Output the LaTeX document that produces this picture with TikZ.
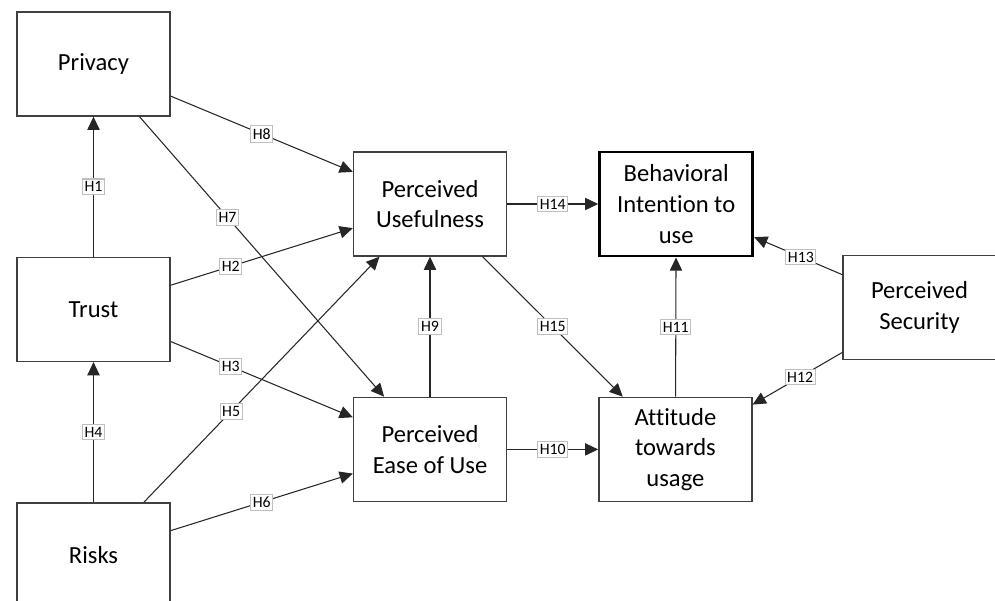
\documentclass[tikz,border=0pt]{standalone}
\usepackage{fontspec}
\setmainfont{Carlito}[Ligatures=CommonOff]
\usetikzlibrary{arrows.meta, positioning}

\begin{document}
\begin{tikzpicture}[
    >={Triangle[length=7.5pt,width=7pt]},
    node distance=2.8cm and 1.82cm,
    cbox/.style={draw=black!75, line width=0.8pt, rectangle, align=center, minimum width=3.06cm, minimum height=2.08cm, font=\fontsize{14}{17.5}\selectfont},
    hlabel/.style={draw=black!25, fill=white, inner xsep=1.2pt, inner ysep=1.5pt, font=\fontsize{9}{10}\selectfont},
    link/.style={->, draw=black!85, line width=0.6pt}
]
\useasboundingbox (0,0) rectangle (19.9,-12.02);

% Constructs
\node[cbox] (privacy) at (1.87,-1.28) {Privacy};
\node[cbox, below=of privacy] (trust) {Trust};
\node[cbox, below=of trust] (risks) {Risks};
\node[cbox] (pu) at (8.6,-4.08) {Perceived\\ Usefulness};
\node[cbox, below=of pu] (peou) {Perceived\\ Ease of Use};
\node[cbox, right=of pu, draw=black, line width=1.7pt] (bi) {Behavioral\\ Intention to\\ use};
\node[cbox, right=of peou] (att) {Attitude\\ towards\\ usage};
\node[cbox] (ps) at (18.39,-6.15) {Perceived\\ Security};

% Hypotheses
\draw[link] (trust) -- node[hlabel] {H1} (privacy);
\draw[link] (trust) -- node[hlabel, pos=0.33] {H2} (pu);
\draw[link] (trust) -- node[hlabel, pos=0.33] {H3} (peou);
\draw[link] (risks) -- node[hlabel] {H4} (trust);
\draw[link] (risks) -- node[hlabel, pos=0.37] {H5} (pu);
\draw[link] (risks) -- node[hlabel] {H6} (peou);
\draw[link] (privacy) -- node[hlabel, pos=0.36] {H7} (peou);
\draw[link] (privacy) -- node[hlabel] {H8} (pu);
\draw[link] (peou) -- node[hlabel] {H9} (pu);
\draw[link] (peou) -- node[hlabel] {H10} (att);
\draw[link] (att) -- node[hlabel] {H11} (bi);
\draw[link] (ps) -- node[hlabel, pos=0.47] {H12} (att);
\draw[link] (ps) -- node[hlabel, pos=0.47] {H13} (bi);
\draw[link] (pu) -- node[hlabel] {H14} (bi);
\draw[link] (pu) -- node[hlabel] {H15} (att);

\end{tikzpicture}
\end{document}
